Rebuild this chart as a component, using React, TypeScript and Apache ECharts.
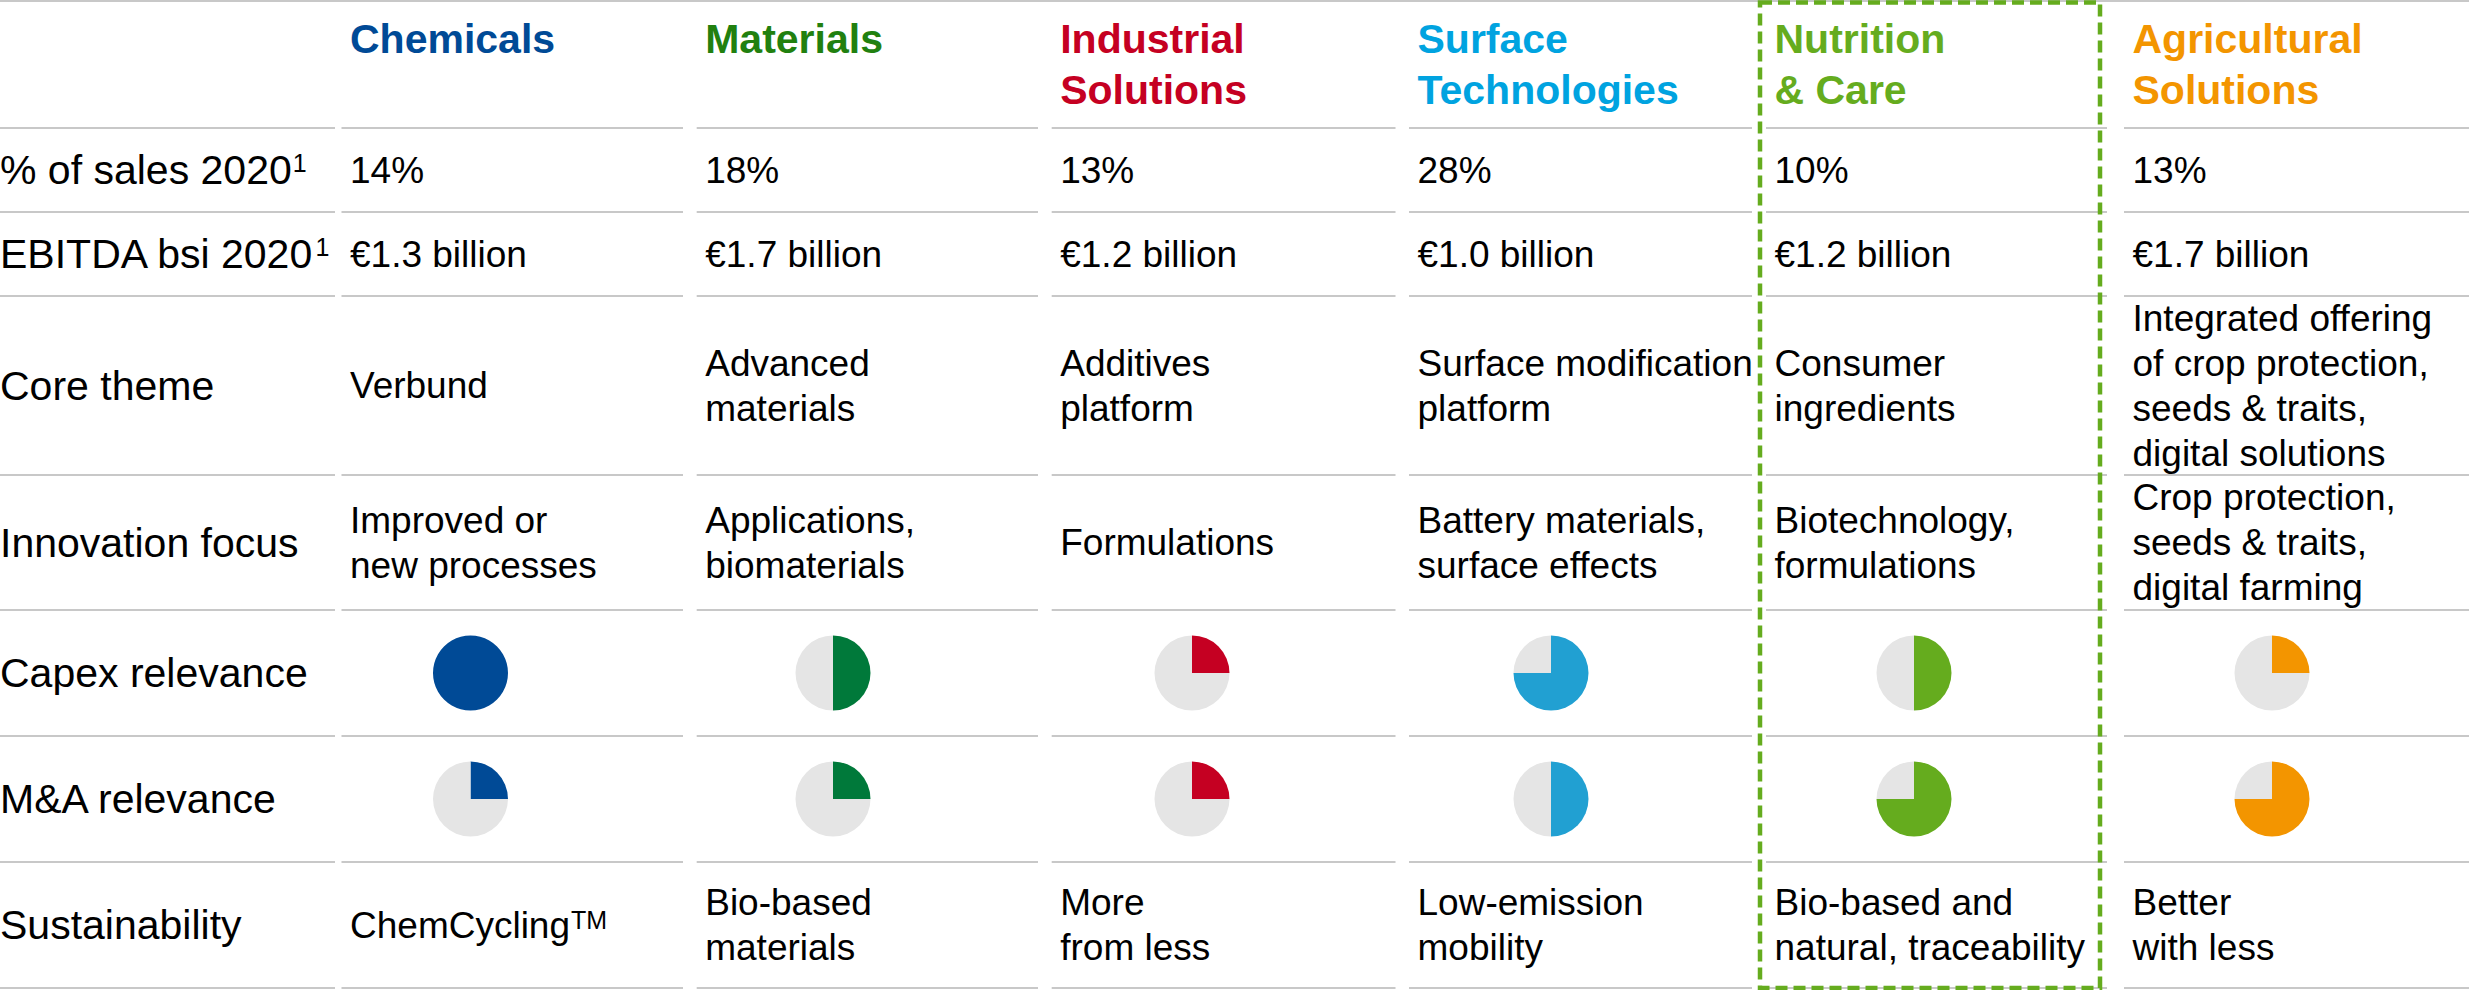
import React, { useEffect, useRef } from "react";
import * as echarts from "echarts";

// ---------- data ----------
const segments = ["Chemicals", "Materials", "Industrial\nSolutions", "Surface\nTechnologies", "Nutrition\n& Care", "Agricultural\nSolutions"];
const rowLabels = ["% of sales 2020", "EBITDA bsi 2020", "Core theme", "Innovation focus", "Capex relevance", "M&A relevance", "Sustainability"];
const labelFootnotes = ["1", "1", "", "", "", "", ""];
const salesShare = ["14%", "18%", "13%", "28%", "10%", "13%"];
const ebitdaBsi = ["€1.3 billion", "€1.7 billion", "€1.2 billion", "€1.0 billion", "€1.2 billion", "€1.7 billion"];
const coreTheme = [
  "Verbund",
  "Advanced\nmaterials",
  "Additives\nplatform",
  "Surface modification\nplatform",
  "Consumer\ningredients",
  "Integrated offering\nof crop protection,\nseeds & traits,\ndigital solutions",
];
const innovationFocus = [
  "Improved or\nnew processes",
  "Applications,\nbiomaterials",
  "Formulations",
  "Battery materials,\nsurface effects",
  "Biotechnology,\nformulations",
  "Crop protection,\nseeds & traits,\ndigital farming",
];
const capexRelevance = [4, 2, 1, 3, 2, 1]; // quarters of a Harvey ball
const maRelevance = [1, 1, 1, 2, 3, 3];
const sustainability = ["ChemCycling", "Bio-based\nmaterials", "More\nfrom less", "Low-emission\nmobility", "Bio-based and\nnatural, traceability", "Better\nwith less"];
const sustainabilityMarks = ["TM", "", "", "", "", ""];
const highlightedSegment = 4;

// ---------- layout & style ----------
const W = 2469;
const H = 990;
const FONT = "'Liberation Sans', Arial, Helvetica, sans-serif";
const headerColors = ["#004A96", "#21800F", "#C50022", "#00A3E0", "#65AC1E", "#F39500"];
const ballColors = ["#004A96", "#00793A", "#C50022", "#21A0D2", "#65AC1E", "#F39500"];
const EMPTY = "#E5E5E5";
const LINE = "#C8C8C8";
const COL_LEFT = [341.5, 696.7, 1051.7, 1409, 1766, 2124];
const COL_RIGHT = [683, 1038, 1395.5, 1752, 2107, 2469];
const BALL_X = [470.5, 833, 1192, 1551, 1914, 2272];
const ROW_LINES = [128, 212, 296, 475, 610, 736, 862, 988];
const TEXT_PAD = 8.5;
const LABEL_X = 0;
const LABEL_SIZE = 41;
const BODY_SIZE = 37;
const HEAD_SIZE = 41;
const SUP_SIZE = 25;

function measure(text: string, size: number, weight = "normal") {
  const ctx = document.createElement("canvas").getContext("2d");
  if (!ctx) return text.length * size * 0.5;
  ctx.font = `${weight} ${size}px ${FONT}`;
  return ctx.measureText(text).width;
}

function buildOption() {
  const g: any[] = [];
  const rowCenter = (r: number) => (ROW_LINES[r] + ROW_LINES[r + 1]) / 2;

  // top rule
  g.push({ type: "rect", shape: { x: 0, y: 0, width: W, height: 2 }, style: { fill: LINE }, silent: true });
  // row rules (segmented)
  const segs: [number, number][] = [[0, 335]].concat(COL_LEFT.map((l, i) => [l, COL_RIGHT[i]] as [number, number])) as any;
  ROW_LINES.forEach((y) => {
    segs.forEach(([a, b]) => {
      g.push({ type: "rect", shape: { x: a, y: y - 1, width: b - a, height: 2 }, style: { fill: LINE }, silent: true });
    });
  });

  // headers
  segments.forEach((s, i) => {
    g.push({
      type: "text",
      x: COL_LEFT[i] + TEXT_PAD,
      y: 13,
      silent: true,
      style: {
        text: s,
        fontSize: HEAD_SIZE,
        fontWeight: "bold",
        fontFamily: FONT,
        fill: headerColors[i],
        verticalAlign: "top",
        lineHeight: 51,
      },
    });
  });

  // row labels
  rowLabels.forEach((lab, r) => {
    const cy = rowCenter(r);
    g.push({
      type: "text",
      x: LABEL_X,
      y: cy,
      silent: true,
      style: { text: lab, fontSize: LABEL_SIZE, fontFamily: FONT, fill: "#000", verticalAlign: "middle" },
    });
    if (labelFootnotes[r]) {
      const w = measure(lab, LABEL_SIZE);
      g.push({
        type: "text",
        x: LABEL_X + w + 1,
        y: cy - 7,
        silent: true,
        style: { text: labelFootnotes[r], fontSize: SUP_SIZE, fontFamily: FONT, fill: "#000", verticalAlign: "middle" },
      });
    }
  });

  // text rows
  const textRows: [number, string[]][] = [
    [0, salesShare],
    [1, ebitdaBsi],
    [2, coreTheme],
    [3, innovationFocus],
    [6, sustainability],
  ];
  textRows.forEach(([r, arr]) => {
    const cy = rowCenter(r);
    arr.forEach((t, i) => {
      g.push({
        type: "text",
        x: COL_LEFT[i] + TEXT_PAD,
        y: cy,
        silent: true,
        style: { text: t, fontSize: BODY_SIZE, fontFamily: FONT, fill: "#000", verticalAlign: "middle", lineHeight: 45 },
      });
    });
  });
  // trademark superscripts
  sustainabilityMarks.forEach((m, i) => {
    if (!m) return;
    const cy = rowCenter(6);
    const w = measure(sustainability[i], BODY_SIZE);
    g.push({
      type: "text",
      x: COL_LEFT[i] + TEXT_PAD + w + 1,
      y: cy + 12.8 - 9 - 8.7,
      silent: true,
      style: { text: m, fontSize: SUP_SIZE, fontFamily: FONT, fill: "#000", verticalAlign: "middle" },
    });
  });

  // highlight box
  const hx = COL_LEFT[highlightedSegment] - 6;
  g.push({
    type: "rect",
    z: 100,
    silent: true,
    shape: { x: hx, y: 2.5, width: 340, height: 985.5 },
    style: { fill: "none", stroke: "#65AC1E", lineWidth: 4.5, lineDash: [12, 6] },
  });

  // Harvey balls
  const series: any[] = [];
  const ballRows: [number, number[]][] = [
    [4, capexRelevance],
    [5, maRelevance],
  ];
  ballRows.forEach(([r, vals]) => {
    const cy = rowCenter(r);
    vals.forEach((v, i) => {
      series.push({
        type: "pie",
        silent: true,
        center: [BALL_X[i], cy],
        radius: 37.5,
        startAngle: 90,
        clockwise: true,
        label: { show: false },
        labelLine: { show: false },
        emphasis: { disabled: true },
        itemStyle: { borderWidth: 0 },
        data: [
          { value: v, name: "filled", itemStyle: { color: ballColors[i] } },
          { value: 4 - v, name: "empty", itemStyle: { color: EMPTY } },
        ],
      });
    });
  });

  return {
    animation: false,
    backgroundColor: "#ffffff",
    graphic: g,
    series,
  };
}

export default function App() {
  const ref = useRef<HTMLDivElement>(null);
  useEffect(() => {
    if (!ref.current) return;
    const chart = echarts.init(ref.current, undefined, { renderer: "svg" });
    chart.setOption(buildOption() as any);
    return () => chart.dispose();
  }, []);
  return <div ref={ref} style={{ position: "absolute", left: 0, top: 0, width: W, height: H }} />;
}
